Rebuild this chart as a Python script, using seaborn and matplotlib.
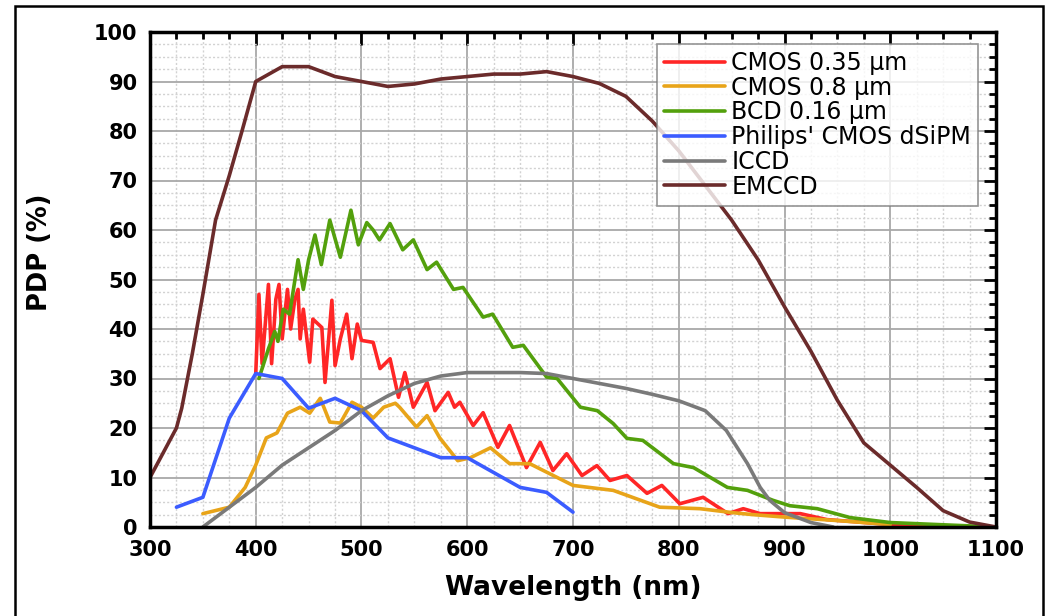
import matplotlib
matplotlib.use("Agg")
import matplotlib.pyplot as plt
from matplotlib.patches import Rectangle
from matplotlib.ticker import MultipleLocator
import seaborn as sns

# PDP curves (wavelength nm, PDP %)
cmos035_x = [400, 403, 406, 412, 415, 419, 422, 425, 430, 433, 437, 440, 442, 445, 451, 454,
             459, 462.5, 465.5, 472, 475, 480, 486, 491, 496, 500, 511, 517.5, 527, 535, 541,
             549, 562, 569.5, 582, 588, 593, 605.6, 615, 629, 640, 656, 669, 681, 694, 708.5,
             722.6, 735, 751, 770, 784, 801, 823, 846.6, 861, 877, 915, 940, 1000, 1044]
cmos035_y = [31, 47, 33, 49, 33, 46, 49, 38, 48, 40, 46, 48, 38, 44, 33.3, 42,
             41, 40.3, 29.2, 45.8, 32.6, 38, 43, 34, 41, 37.7, 37.3, 32, 34, 26.2, 31.2,
             24.2, 29.2, 23.5, 27.2, 24.2, 25.2, 20.5, 23.1, 16.1, 20.5, 12, 17.1, 11.4, 14.8, 10.4,
             12.4, 9.4, 10.4, 6.8, 8.4, 4.7, 6, 2.7, 3.7, 2.7, 2.7, 1.5, 0.5, 0.2]

cmos08_x = [350, 375, 390, 400, 410, 420, 430, 442, 451, 461, 470, 480, 491, 500, 511, 521,
            532, 536, 552, 562, 574, 591, 603, 622, 640, 659, 700, 738, 782, 820, 851, 870,
            900, 950, 1000]
cmos08_y = [2.7, 4, 8, 12.5, 18, 19, 23, 24.2, 23, 26, 21.2, 21, 25.2, 24.2, 22, 24.2,
            25, 24.2, 20.2, 22.5, 18, 13.4, 14, 16, 12.8, 12.8, 8.4, 7.4, 4, 3.7, 2.9, 2.5,
            2, 1.3, 0.5]

bcd_x = [403, 412, 418, 421, 426, 432, 440, 445, 450, 456, 462, 470, 480, 490, 497, 505,
         511, 517, 527, 539, 549, 562, 571, 587, 596, 615, 624, 643, 653, 675, 685, 707,
         723, 738, 751, 766, 795, 814, 846, 865, 889, 905, 931, 962, 1000, 1044, 1100]
bcd_y = [30, 36, 39.5, 37.5, 44, 43, 54, 48, 54, 59, 53, 62, 54.5, 64, 57, 61.5,
         60, 58, 61.3, 56, 58, 52, 53.5, 48, 48.4, 42.4, 43, 36.3, 36.7, 30.3, 30, 24.2,
         23.5, 20.9, 17.9, 17.5, 12.8, 12, 8, 7.4, 5.4, 4.3, 3.7, 1.9, 0.9, 0.5, 0]

philips_x = [325, 350, 375, 400, 425, 450, 475, 500, 525, 550, 575, 600, 625, 650, 675, 700]
philips_y = [4, 6, 22, 31, 30, 24, 26, 23.5, 18, 16, 14, 14, 11, 8, 7, 3]

iccd_x = [350, 375, 400, 425, 450, 475, 500, 525, 550, 575, 600, 625, 650, 675, 700, 725,
          750, 775, 800, 825, 845, 865, 877, 886, 900, 925, 946]
iccd_y = [0, 4, 8, 12.5, 16, 19.5, 23.5, 26.5, 29, 30.5, 31.2, 31.2, 31.2, 31, 30, 29,
          28, 26.8, 25.5, 23.5, 19.5, 12.8, 8, 5.4, 2.9, 0.9, 0]

emccd_x = [300, 325, 330, 340, 350, 362, 375, 387, 400, 425, 450, 475, 500, 525, 550, 575,
           600, 625, 650, 675, 700, 725, 750, 775, 800, 825, 850, 875, 900, 925, 950, 975,
           1000, 1025, 1050, 1075, 1100]
emccd_y = [10, 20, 24, 35, 47, 62, 71, 80, 90, 93, 93, 91, 90, 89, 89.5, 90.5,
           91, 91.5, 91.5, 92, 91, 89.6, 87, 82, 76, 69, 62, 54, 44.5, 35.5, 25.6, 17,
           12.5, 8, 3.3, 1, 0]

labels = ["CMOS 0.35 µm", "CMOS 0.8 µm", "BCD 0.16 µm", "Philips' CMOS dSiPM", "ICCD", "EMCCD"]
colors = ["#ff2626", "#e8a419", "#53a00c", "#3b5cff", "#7a7a7a", "#6b2b2b"]
series = [(cmos035_x, cmos035_y), (cmos08_x, cmos08_y), (bcd_x, bcd_y),
          (philips_x, philips_y), (iccd_x, iccd_y), (emccd_x, emccd_y)]

sns.set_style("white")
plt.rcParams.update({
    "font.family": ["DejaVu Sans"],
    "text.color": "black",
    "axes.labelcolor": "black",
    "xtick.color": "black",
    "ytick.color": "black",
})

fig = plt.figure(figsize=(10.49, 6.16), dpi=100)
ax = fig.add_axes([150 / 1049, 89 / 616, 846 / 1049, 495 / 616])

for (xs, ys), lab, col in zip(series, labels, colors):
    sns.lineplot(x=xs, y=ys, color=col, label=lab, linewidth=2.6, ax=ax)

ax.set_xlim(300, 1100)
ax.set_ylim(0, 100)
ax.xaxis.set_major_locator(MultipleLocator(100))
ax.xaxis.set_minor_locator(MultipleLocator(25))
ax.yaxis.set_major_locator(MultipleLocator(10))
ax.yaxis.set_minor_locator(MultipleLocator(2.5))

ax.set_axisbelow(True)
ax.grid(which="major", color="#a8a8a8", linewidth=1.3)
ax.grid(which="minor", color="#d2d2d2", linewidth=1.0, linestyle=(0, (1.5, 1.5)))

ax.tick_params(which="both", direction="in", top=True, right=True, color="black", width=2)
ax.tick_params(which="major", length=9, pad=9, labelsize=15)
ax.tick_params(which="minor", length=5)
for lbl in ax.get_xticklabels() + ax.get_yticklabels():
    lbl.set_fontweight("bold")
for sp in ax.spines.values():
    sp.set_linewidth(2.5)
    sp.set_color("black")

ax.set_xlabel("Wavelength (nm)", fontsize=19, fontweight="bold", labelpad=11)
ax.set_ylabel("PDP (%)", fontsize=18.5, fontweight="bold")
ax.yaxis.set_label_coords(-0.115, 0.556)

leg = ax.legend(loc="upper right", bbox_to_anchor=(0.979, 0.976), borderaxespad=0,
                fontsize=17, frameon=True, fancybox=False, handlelength=2.6,
                handletextpad=0.25, labelspacing=0.03, borderpad=0.3)
leg.get_frame().set_edgecolor("#7a7a7a")
leg.get_frame().set_linewidth(1.2)
for line in leg.get_lines():
    line.set_linewidth(2.6)

# thin black frame around the whole picture
fig.patches.append(Rectangle((15 / 1049, -0.05), 1028 / 1049, 1 - 6 / 616 + 0.05,
                             transform=fig.transFigure, fill=False,
                             edgecolor="black", linewidth=1.8))

fig.savefig("out.png", dpi=100)
